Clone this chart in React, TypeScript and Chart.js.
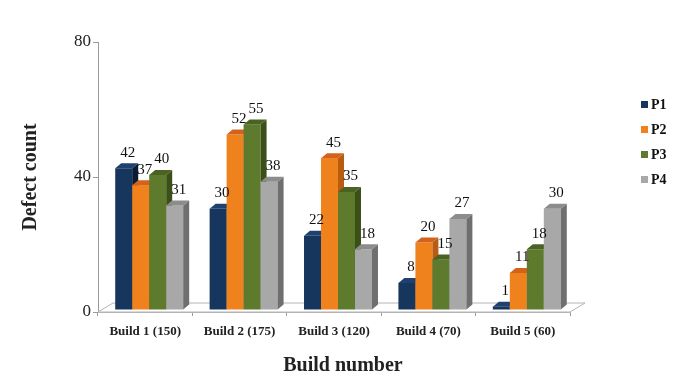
import React, { useEffect, useRef } from "react";
import { Chart, registerables } from "chart.js";

Chart.register(...registerables);

const categories = ["Build 1 (150)", "Build 2 (175)", "Build 3 (120)", "Build 4 (70)", "Build 5 (60)"];
const seriesNames = ["P1", "P2", "P3", "P4"];
const p1 = [42, 30, 22, 8, 1];
const p2 = [37, 52, 45, 20, 11];
const p3 = [40, 55, 35, 15, 18];
const p4 = [31, 38, 18, 27, 30];
const yTicks = [0, 40, 80];
const xTitle = "Build number";
const yTitle = "Defect count";

const frontColors = ["#17365d", "#f0821e", "#5e7a2c", "#a8a8a8"];
const sideColors = ["#0a1b33", "#b85c12", "#3b4f18", "#6f6f6f"];
const topColors = ["#1f4170", "#d4621a", "#4a6322", "#8c8c8c"];

const FONT = "'Liberation Serif', 'Times New Roman', serif";
const DX = 6; // bar depth x
const DY = -5; // bar depth y
const SX = 4; // bar placement inside floor
const SY = -2;
const FX = 15; // floor depth
const FY = -9;

const threeD = {
  id: "threeD",
  beforeDatasetsDraw() {
    return false;
  },
  afterDraw(chart: any) {
    const ctx: CanvasRenderingContext2D = chart.ctx;
    const { left, right, bottom } = chart.chartArea;
    ctx.save();
    // floor
    ctx.beginPath();
    ctx.moveTo(left, bottom);
    ctx.lineTo(right, bottom);
    ctx.lineTo(right + FX, bottom + FY);
    ctx.lineTo(left + FX, bottom + FY);
    ctx.closePath();
    ctx.fillStyle = "#ffffff";
    ctx.fill();
    ctx.strokeStyle = "#b4b4b4";
    ctx.lineWidth = 1;
    ctx.stroke();

    const n = chart.data.labels.length;
    const nd = chart.data.datasets.length;
    for (let i = 0; i < n; i++) {
      for (let d = 0; d < nd; d++) {
        const el: any = chart.getDatasetMeta(d).data[i];
        const w = el.width;
        const l = el.x - w / 2 + SX;
        const r = el.x + w / 2 + SX;
        const t = el.y + SY;
        const b = el.base + SY;
        // front
        ctx.fillStyle = frontColors[d];
        ctx.fillRect(l, t, r - l, b - t);
        // side
        ctx.beginPath();
        ctx.moveTo(r, t);
        ctx.lineTo(r + DX, t + DY);
        ctx.lineTo(r + DX, b + DY);
        ctx.lineTo(r, b);
        ctx.closePath();
        ctx.fillStyle = sideColors[d];
        ctx.fill();
        // top
        ctx.beginPath();
        ctx.moveTo(l, t);
        ctx.lineTo(l + DX, t + DY);
        ctx.lineTo(r + DX, t + DY);
        ctx.lineTo(r, t);
        ctx.closePath();
        ctx.fillStyle = topColors[d];
        ctx.fill();
      }
    }
    // value labels
    ctx.font = `15px ${FONT}`;
    ctx.fillStyle = "#111";
    ctx.textAlign = "center";
    ctx.textBaseline = "bottom";
    for (let d = 0; d < nd; d++) {
      const meta = chart.getDatasetMeta(d);
      meta.data.forEach((el: any, i: number) => {
        const v = chart.data.datasets[d].data[i];
        ctx.fillText(String(v), el.x + SX + DX / 2 + 1, el.y + SY + DY - 3);
      });
    }
    // x axis title
    ctx.font = `bold 20px ${FONT}`;
    ctx.fillStyle = "#222";
    ctx.textAlign = "center";
    ctx.textBaseline = "middle";
    ctx.fillText(xTitle, (left + right) / 2 + 9, 366);
    // legend
    const lx = 641;
    const ly0 = 105;
    const lgap = 25;
    ctx.font = `bold 14px ${FONT}`;
    ctx.textAlign = "left";
    ctx.textBaseline = "middle";
    chart.data.datasets.forEach((ds: any, d: number) => {
      const cy = ly0 + d * lgap;
      ctx.fillStyle = frontColors[d];
      ctx.fillRect(lx, cy - 4, 7, 7);
      ctx.fillStyle = "#111";
      ctx.fillText(ds.label, lx + 10, cy);
    });
    ctx.restore();
  },
};

export default function App() {
  const ref = useRef<HTMLCanvasElement | null>(null);
  useEffect(() => {
    if (!ref.current) return;
    const seriesValues = [p1, p2, p3, p4];
    const chart = new Chart(ref.current, {
      type: "bar",
      data: {
        labels: categories,
        datasets: seriesNames.map((name, d) => ({
          label: name,
          data: seriesValues[d],
          backgroundColor: frontColors[d],
          categoryPercentage: 0.72,
          barPercentage: 1,
        })),
      },
      options: {
        responsive: true,
        maintainAspectRatio: false,
        animation: false,
        layout: { padding: { top: 42, right: 107, left: 0, bottom: 0 } },
        plugins: {
          legend: { display: false },
          tooltip: { enabled: false },
        },
        scales: {
          y: {
            min: 0,
            max: 80,
            afterBuildTicks: (s: any) => {
              s.ticks = yTicks.map((v) => ({ value: v }));
            },
            afterFit: (s: any) => {
              s.width = 98;
            },
            ticks: {
              font: { family: FONT, size: 17 },
              color: "#222",
              padding: 2,
            },
            grid: { drawOnChartArea: false, tickLength: 5, color: "#9a9a9a" },
            border: { color: "#9a9a9a" },
            title: {
              display: true,
              text: yTitle,
              font: { family: FONT, size: 20, weight: "bold" },
              color: "#222",
              padding: { top: 19, bottom: 0 },
            },
          },
          x: {
            afterFit: (s: any) => {
              s.height = 67;
            },
            ticks: {
              font: { family: FONT, size: 13, weight: "bold" },
              color: "#222",
              padding: 8,
              maxRotation: 0,
            },
            grid: { drawOnChartArea: false, offset: true, tickLength: 4, color: "#9a9a9a" },
            border: { color: "#b4b4b4" },
            title: { display: false },
          },
        },
      },
      plugins: [threeD],
    });
    return () => chart.destroy();
  }, []);
  return (
    <div style={{ position: "fixed", left: 0, top: 0, width: 677, height: 379, background: "#fff" }}>
      <canvas ref={ref} />
    </div>
  );
}
